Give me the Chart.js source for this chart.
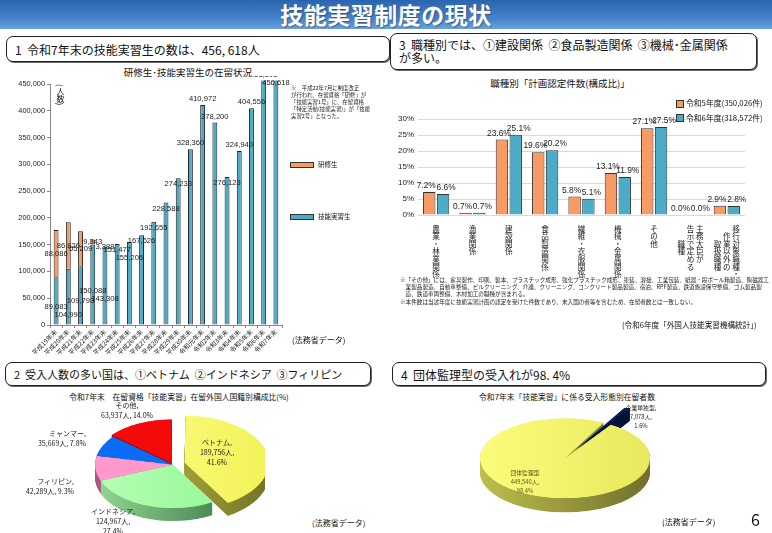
<!DOCTYPE html>
<html lang="ja">
<head>
<meta charset="utf-8">
<title>技能実習制度の現状</title>
<script src="https://cdn.jsdelivr.net/npm/chart.js@4.4.1/dist/chart.umd.min.js"></script>
<style>
  html, body { margin: 0; padding: 0; background: #fff; }
  body {
    width: 772px; height: 533px; position: relative; overflow: hidden;
    font-family: "Noto Sans CJK JP", "Noto Sans", sans-serif; color: #111;
  }
  .abs { position: absolute; }
  .band {
    left: 0; top: 0; width: 772px; height: 29px;
    background: linear-gradient(#2b64ae, #4584cc 65%, #6aa2dc);
  }
  .band h1 {
    margin: 0; font-size: 23px; font-weight: bold; color: #fff; text-align: center;
    line-height: 29px; letter-spacing: 0.5px; text-shadow: 1px 1px 1px rgba(0,0,0,.35);
  }
  .box {
    border: 1.6px solid #222; border-radius: 7px; box-shadow: 1px 1px 0 #666;
    background: #fff; font-size: 12px; line-height: 13px; box-sizing: border-box;
    padding: 5px 8px; white-space: pre;
  }
  .ttl { font-size: 9.5px; white-space: nowrap; transform: translateX(-50%); }
  .small { font-size: 7.5px; white-space: nowrap; }
  .note { font-size: 5.6px; line-height: 7.2px; white-space: pre; color: #222; }
  .plab { font-size: 7px; line-height: 10px; text-align: center; white-space: pre; color: #222; transform: translateX(-50%); }
  .sw { display: inline-block; vertical-align: middle; }
  .pie { transform: scaleY(0.56); transform-origin: 0 0; }
</style>
</head>
<body>

<div class="abs band"><h1>技能実習制度の現状</h1></div>

<!-- 見出しボックス -->
<div class="abs box" style="left:6px;top:36px;width:384px;height:26px;padding-top:6px;">1  令和7年末の技能実習生の数は、456, 618人</div>
<div class="abs box" style="left:390px;top:33px;width:367px;height:37px;padding-top:4px;">3  職種別では、①建設関係  ②食品製造関係  ③機械･金属関係
が多い。</div>
<div class="abs box" style="left:5px;top:362px;width:366px;height:24px;font-size:11px;">2  受入人数の多い国は、①ベトナム  ②インドネシア  ③フィリピン</div>
<div class="abs box" style="left:392px;top:362px;width:374px;height:24px;">4  団体監理型の受入れが98. 4%</div>

<!-- 1. 研修生・技能実習生の在留状況 -->
<div class="abs ttl" style="left:188px;top:65px;">研修生･技能実習生の在留状況</div>
<div class="abs" style="left:0;top:76px;width:292px;height:285px;"><canvas id="chart-stay"></canvas></div>
<div class="abs small" style="left:56px;top:84px;writing-mode:vertical-rl;font-size:8px;line-height:9px;">(人数)</div>
<div class="abs note" style="left:291px;top:85px;font-size:5.4px;line-height:7px;">※　平成22年7月に制度改正
が行われ、在留資格「研修」が
「技能実習1号」に、在留資格
「特定活動(技能実習)」が「技能
実習2号」となった。</div>
<div class="abs small" style="left:290px;top:159px;font-size:6.5px;"><span class="sw" style="width:22px;height:4px;background:#f79a63;border:1px solid #333;margin-right:4px;"></span>研修生</div>
<div class="abs small" style="left:290px;top:211px;font-size:6.5px;"><span class="sw" style="width:22px;height:4px;background:#4aacc6;border:1px solid #333;margin-right:4px;"></span>技能実習生</div>
<div class="abs small" style="left:292px;top:334px;font-size:8px;">(法務省データ)</div>

<!-- 3. 職種別 -->
<div class="abs ttl" style="left:560px;top:76px;">職種別「計画認定件数(構成比)」</div>
<div class="abs" style="left:385px;top:100px;width:372px;height:205px;"><canvas id="chart-job"></canvas></div>
<div class="abs small" style="left:676px;top:96px;font-size:7.8px;line-height:14.5px;"><span class="sw" style="width:6px;height:6px;background:#f79a63;border:0.5px solid #333;margin-right:2px;"></span>令和5年度(350,026件)<br><span class="sw" style="width:6px;height:6px;background:#4aacc6;border:0.5px solid #333;margin-right:2px;"></span>令和6年度(318,572件)</div>
<div class="abs note" style="left:400px;top:277px;">※「その他」には、家具製作、印刷、製本、プラスチック成形、強化プラスチック成形、塗装、溶接、工業包装、紙器・段ボール箱製造、陶磁器工
　業製品製造、自動車整備、ビルクリーニング、介護、クリーニング、コンクリート製品製造、宿泊、RPF製造、鉄道施設保守整備、ゴム製品製
　造、鉄道車両整備、木材加工の職種が含まれる。</div>
<div class="abs note" style="left:400px;top:299px;">※本件数は当該年度に技能実習計画の認定を受けた件数であり、未入国の者等を含むため、在留者数とは一致しない。</div>
<div class="abs small" style="left:622px;top:319px;font-size:7.6px;">(令和6年度「外国人技能実習機構統計」)</div>

<!-- 2. 国籍別構成比 -->
<div class="abs ttl" style="left:179px;top:391px;font-size:7.8px;">令和7年末　在留資格「技能実習」在留外国人国籍別構成比(%)</div>
<div class="abs pie" style="left:81px;top:413px;width:184px;height:207px;"><canvas id="chart-nation"></canvas></div>
<div class="abs plab" style="left:127px;top:400px;">その他,
63,937人, 14.0%</div>
<div class="abs plab" style="left:62px;top:428px;text-align:right;">ミャンマー,
35,669人, 7.8%</div>
<div class="abs plab" style="left:50px;top:476px;text-align:right;">フィリピン,
42,289人, 9.3%</div>
<div class="abs plab" style="left:113px;top:506px;">インドネシア,
124,967人,
27.4%</div>
<div class="abs plab" style="left:217px;top:437px;">ベトナム,
189,756人,
41.6%</div>
<div class="abs small" style="left:312px;top:517px;font-size:8px;">(法務省データ)</div>

<!-- 4. 受入形態別 -->
<div class="abs ttl" style="left:567px;top:391px;font-size:7.8px;">令和7年末「技能実習」に係る受入形態別在留者数</div>
<div class="abs pie" style="left:458px;top:408px;width:214px;height:244px;transform:scaleY(0.47);"><canvas id="chart-type"></canvas></div>
<div class="abs plab" style="left:641px;top:404px;font-size:5.8px;line-height:8.8px;">企業単独型,
7,078人,
1.6%</div>
<div class="abs plab" style="left:525px;top:468px;font-size:5.8px;line-height:9px;color:#5a5a1a;">団体監理型
449,540人,
98.4%</div>
<div class="abs small" style="left:662px;top:516px;font-size:8px;">(法務省データ)</div>
<div class="abs" style="left:751px;top:507px;font-size:16px;">6</div>

<script>
/* ── データ ───────────────────────────────────────── */
const yearLabels = ['平成19年末', '平成20年末', '平成21年末', '平成22年末', '平成23年末', '平成24年末',
  '平成25年末', '平成26年末', '平成27年末', '平成28年末', '平成29年末', '平成30年末', '令和元年末',
  '令和2年末', '令和3年末', '令和4年末', '令和5年末', '令和6年末', '令和7年末'];
const traineeCounts = [89083, 104990, 109793, 150088, 143308, 151477, 155206, 167626, 192655, 228588,
  274233, 328360, 410972, 378200, 276123, 324940, 404556, 456595, 456618];
const internCounts = [88086, 86826, 65209, 9343, 3388, null, null, null, null, null,
  null, null, null, null, null, null, null, null, null];
const stayTicks = [0, 50000, 100000, 150000, 200000, 250000, 300000, 350000, 400000, 450000];

// 職種別（縦書きラベルは行ごとに分割）
const jobLabels = [
  ['農', '業', '・', '林', '業', '関', '係'],
  ['漁', '業', '関', '係'],
  ['建', '設', '関', '係'],
  ['食', '品', '製', '造', '関', '係'],
  ['繊', '維', '・', '衣', '服', '関', '係'],
  ['機', '械', '・', '金', '属', '関', '係'],
  ['そ', 'の', '他'],
  ['　 告 主', '　 示 務', '職 で 大', '種 定 臣', '　 め が', '　 る 　'],
  ['　 　 移', '　 作 行', '取 業 対', '扱 以 象', '職 外 職', '種 の 種', '　 　 ・']
];
const jobShareR5 = [7.2, 0.7, 23.6, 19.6, 5.8, 13.1, 27.1, 0.0, 2.9];
const jobShareR6 = [6.6, 0.7, 25.1, 20.2, 5.1, 11.9, 27.5, 0.0, 2.8];
const jobSeriesNames = ['令和5年度(350,026件)', '令和6年度(318,572件)'];

// 国籍別
const nationNames = ['ベトナム', 'インドネシア', 'フィリピン', 'ミャンマー', 'その他'];
const nationCounts = [189756, 124967, 42289, 35669, 63937];

// 受入形態別
const typeNames = ['企業単独型', '団体監理型'];
const typeCounts = [7078, 449540];

/* ── 共通 ───────────────────────────────────────── */
const ORANGE = '#f79a63';
const BLUE = '#4aacc6';
const NUM_FONT = '"Liberation Sans", "Noto Sans", sans-serif';
const JP_FONT = '"Noto Sans CJK JP", sans-serif';
Chart.defaults.animation = false;
Chart.defaults.color = '#222';
Chart.defaults.plugins.legend.display = false;
Chart.defaults.plugins.tooltip.enabled = false;

function fmtNum(n) { return (n || 0).toLocaleString('en-US'); }

/* 1. 在留状況のデータラベル */
const stayLabels = {
  id: 'stayLabels',
  afterDatasetsDraw(chart) {
    const ctx = chart.ctx;
    const blue = chart.getDatasetMeta(0).data;
    const orange = chart.getDatasetMeta(1).data;
    ctx.save();
    ctx.font = '7.6px ' + NUM_FONT;
    ctx.fillStyle = '#1a1a1a';
    ctx.textAlign = 'center';
    ctx.textBaseline = 'middle';
    let last = null;
    blue.forEach((bar, i) => {
      let y;
      if (internCounts[i]) y = (bar.y + bar.base) / 2 + 6;
      else if (traineeCounts[i] < 300000) y = bar.y + 6;
      else y = bar.y - 6;
      const txt = fmtNum(traineeCounts[i]);
      const w = ctx.measureText(txt).width;
      // 隣と重なる場合は少し下げる
      if (last && bar.x - w / 2 < last.r && Math.abs(y - last.y) < 8) y = last.y + 8;
      ctx.fillText(txt, bar.x, y);
      last = { r: bar.x + w / 2, y };
    });
    orange.forEach((bar, i) => {
      if (!internCounts[i]) return;
      ctx.fillText(fmtNum(internCounts[i]), bar.x, (bar.y + bar.base) / 2);
    });
    ctx.restore();
  }
};

new Chart(document.getElementById('chart-stay'), {
  type: 'bar',
  data: {
    labels: yearLabels,
    datasets: [
      { label: '技能実習生', data: traineeCounts, backgroundColor: BLUE, borderColor: '#222', borderWidth: 1, clip: false },
      { label: '研修生', data: internCounts, backgroundColor: ORANGE, borderColor: '#222', borderWidth: 1, clip: false }
    ]
  },
  options: {
    responsive: true,
    maintainAspectRatio: false,
    layout: { padding: { top: 8, right: 10 } },
    datasets: { bar: { categoryPercentage: 0.8, barPercentage: 0.5 } },
    scales: {
      x: {
        stacked: true,
        grid: { display: true, drawOnChartArea: false, tickLength: 3, color: '#888' },
        border: { color: '#888' },
        ticks: { font: { size: 6.4, family: JP_FONT }, minRotation: 45, maxRotation: 45, padding: 0, autoSkip: false },
        afterFit: s => { s.height = 36; }
      },
      y: {
        stacked: true,
        min: 0, max: 450000,
        afterBuildTicks: s => { s.ticks = stayTicks.map(v => ({ value: v })); },
        grid: { display: true, drawOnChartArea: false, tickLength: 3, color: '#888' },
        border: { color: '#888' },
        ticks: { font: { size: 7.4, family: NUM_FONT }, padding: 2, callback: v => fmtNum(v) },
        afterFit: s => { s.width = 50; }
      }
    }
  },
  plugins: [stayLabels]
});

/* 3. 職種別のデータラベル（系列ごとに少し外側へずらす） */
const jobValueLabels = {
  id: 'jobValueLabels',
  afterDatasetsDraw(chart) {
    const ctx = chart.ctx;
    ctx.save();
    ctx.font = '8.4px ' + NUM_FONT;
    ctx.fillStyle = '#222';
    ctx.textAlign = 'center';
    ctx.textBaseline = 'bottom';
    chart.data.datasets.forEach((ds, di) => {
      const shift = di === 0 ? -3 : 3;
      chart.getDatasetMeta(di).data.forEach((bar, i) => {
        ctx.fillText(ds.data[i].toFixed(1) + '%', bar.x + shift, bar.y - 2);
      });
    });
    ctx.restore();
  }
};

new Chart(document.getElementById('chart-job'), {
  type: 'bar',
  data: {
    labels: jobLabels,
    datasets: [
      { label: jobSeriesNames[0], data: jobShareR5, backgroundColor: ORANGE, borderColor: '#333', borderWidth: 1 },
      { label: jobSeriesNames[1], data: jobShareR6, backgroundColor: BLUE, borderColor: '#333', borderWidth: 1 }
    ]
  },
  options: {
    responsive: true,
    maintainAspectRatio: false,
    layout: { padding: { top: 19, right: 12 } },
    datasets: { bar: { categoryPercentage: 0.76, barPercentage: 0.9 } },
    scales: {
      x: {
        grid: { display: false },
        border: { display: false },
        ticks: { font: { size: 7.6, family: JP_FONT, lineHeight: 1.0 }, maxRotation: 0, autoSkip: false, padding: 2 },
        afterFit: s => { s.height = 90; }
      },
      y: {
        min: 0, max: 30,
        ticks: { stepSize: 5, font: { size: 8, family: NUM_FONT }, padding: 4, callback: v => v + '%' },
        grid: { color: '#d9d9d9', drawTicks: false },
        border: { display: false },
        afterFit: s => { s.width = 33; }
      }
    }
  },
  plugins: [jobValueLabels]
});

/* 円グラフの厚み（側面）を描くプラグイン */
const pieDepth = {
  id: 'pieDepth',
  beforeDatasetsDraw(chart, args, opts) {
    const ctx = chart.ctx;
    const area = chart.chartArea;
    const arcs = chart.getDatasetMeta(0).data;
    const sides = opts.sides.map(([c1, c2]) => {
      const g = ctx.createLinearGradient(area.left, 0, area.right, 0);
      g.addColorStop(0, c1);
      g.addColorStop(1, c2);
      return g;
    });
    for (let d = opts.depth; d > 0; d--) {
      ctx.save();
      ctx.translate(0, d);
      arcs.forEach((arc, i) => {
        const o = arc.options;
        const bg = o.backgroundColor, bc = o.borderColor, bw = o.borderWidth;
        o.backgroundColor = sides[i];
        o.borderColor = sides[i];
        o.borderWidth = 0;
        arc.draw(ctx);
        o.backgroundColor = bg; o.borderColor = bc; o.borderWidth = bw;
      });
      ctx.restore();
    }
  }
};

/* 上面の色：配列 [左, 右] なら横グラデーション */
function faceColors(list) {
  return context => {
    const c = list[context.dataIndex];
    if (!Array.isArray(c)) return c;
    const chart = context.chart;
    const area = chart.chartArea;
    if (!area) return c[0];
    const g = chart.ctx.createLinearGradient(area.left, 0, area.right, 0);
    g.addColorStop(0, c[0]);
    g.addColorStop(1, c[1]);
    return g;
  };
}

/* 2. 国籍別 */
new Chart(document.getElementById('chart-nation'), {
  type: 'pie',
  data: {
    labels: nationNames,
    datasets: [{
      data: nationCounts,
      backgroundColor: faceColors([
        ['#ffff8a', '#f2f257'],
        ['#b8ffb8', '#8ef78e'],
        '#ff99cc',
        '#0a6cf5',
        '#f50a0a'
      ]),
      borderWidth: 0,
      offset: [48, 0, 0, 0, 10],
      radius: 78
    }]
  },
  options: {
    responsive: true,
    maintainAspectRatio: false,
    layout: { padding: { bottom: 23 } },
    plugins: {
      pieDepth: {
        depth: 23,
        sides: [['#d0d050', '#6e6e22'], ['#9be09b', '#2f6a3c'], ['#b0578a', '#7a2f5c'], ['#0040b0', '#002a7a'], ['#a00000', '#6e0000']]
      }
    }
  },
  plugins: [pieDepth]
});

/* 4. 受入形態別 */
new Chart(document.getElementById('chart-type'), {
  type: 'pie',
  data: {
    labels: typeNames,
    datasets: [{
      data: typeCounts,
      backgroundColor: faceColors(['#0b1f5e', ['#ffff80', '#e6e65a']]),
      borderWidth: 0,
      offset: [90, 0],
      radius: 85
    }]
  },
  options: {
    responsive: true,
    maintainAspectRatio: false,
    rotation: 27,
    layout: { padding: { bottom: 30 } },
    plugins: {
      pieDepth: {
        depth: 30,
        sides: [['#061540', '#041030'], ['#c9c953', '#666628']]
      }
    }
  },
  plugins: [pieDepth]
});
</script>
</body>
</html>
